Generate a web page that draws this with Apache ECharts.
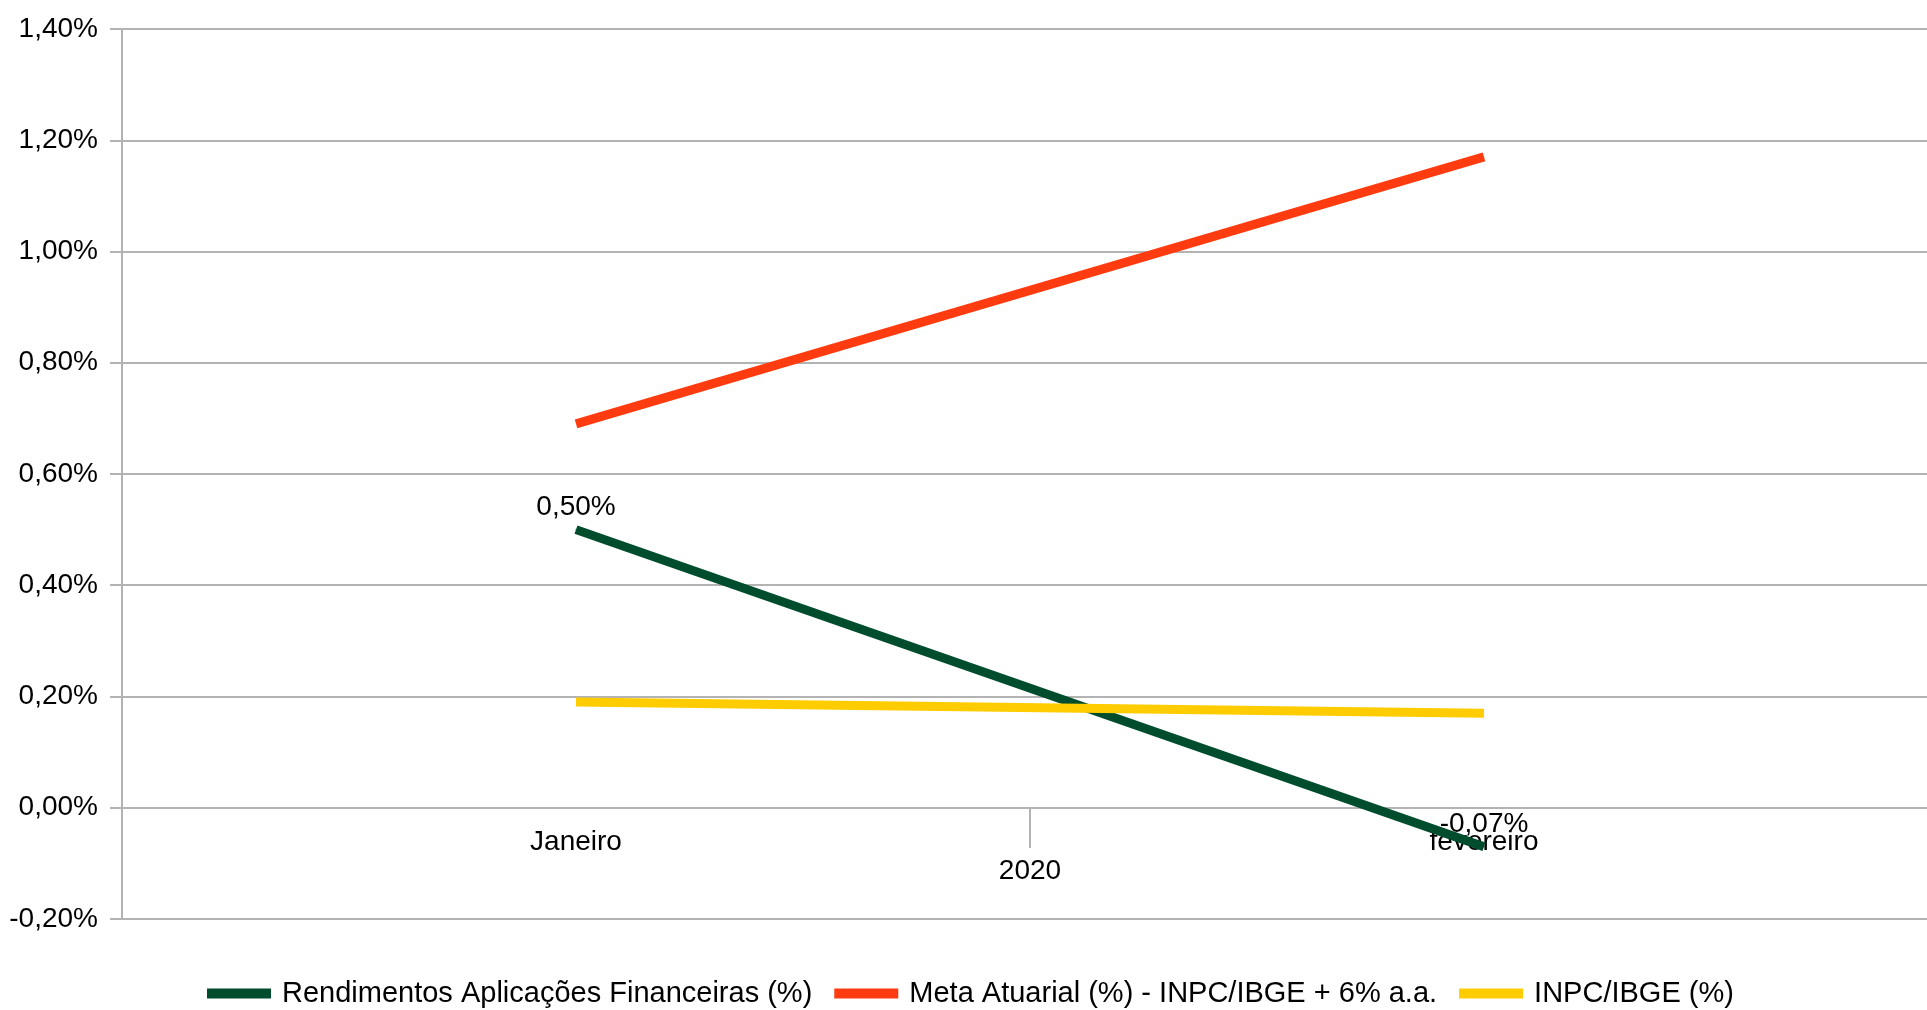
<!DOCTYPE html>
<html>
<head>
<meta charset="utf-8">
<script src="https://cdn.jsdelivr.net/npm/echarts@6/dist/echarts.min.js"></script>
<style>
html,body{margin:0;padding:0;background:#fff;}
#chart{width:1927px;height:1010px;}
</style>
</head>
<body>
<div id="chart"></div>
<script>
var categories = ['Janeiro', 'fevereiro'];
var groupLabels = ['2020'];
var rendimentos = [0.50, -0.07];
var metaAtuarial = [0.69, 1.17];
var inpc = [0.19, 0.17];
var seriesNames = ['Rendimentos Aplicações Financeiras (%)', 'Meta Atuarial (%) - INPC/IBGE + 6% a.a.', 'INPC/IBGE (%)'];
var colors = ['#004d2e', '#ff3b0f', '#ffcc00'];

function fmt(v) { return v.toFixed(2).replace('.', ',') + '%'; }

var FONT = 'Liberation Sans';
var chart = echarts.init(document.getElementById('chart'));
chart.setOption({
  animation: false,
  backgroundColor: '#ffffff',
  color: colors,
  textStyle: { fontFamily: FONT },
  grid: { left: 122, width: 1816, top: 29, bottom: 91, containLabel: false, outerBoundsMode: 'none' },
  legend: {
    bottom: -3, left: 202,
    icon: 'rect', itemWidth: 64, itemHeight: 10, itemGap: 22,
    textStyle: { fontFamily: FONT, fontSize: 29, color: '#000', padding: [0, 0, 0, 6] },
    data: seriesNames
  },
  xAxis: [{
    type: 'category',
    data: categories,
    boundaryGap: true,
    position: 'bottom',
    offset: -111,
    axisLine: { onZero: false, lineStyle: { color: '#b3b3b3', width: 2 } },
    axisTick: { show: true, length: 40, lineStyle: { color: '#b3b3b3', width: 2 } },
    axisLabel: { margin: 20, fontSize: 28, color: '#000', fontFamily: FONT }
  }, {
    type: 'category',
    data: groupLabels,
    position: 'bottom',
    offset: -111,
    boundaryGap: true,
    axisLine: { show: false, onZero: false },
    axisTick: { show: false },
    axisLabel: { margin: 49, fontSize: 28, color: '#000', fontFamily: FONT }
  }],
  yAxis: {
    type: 'value',
    min: -0.2, max: 1.4, interval: 0.2,
    axisLine: { show: true, lineStyle: { color: '#b3b3b3', width: 2 } },
    axisTick: { show: true, length: 12, lineStyle: { color: '#b3b3b3', width: 2 } },
    splitLine: { show: true, lineStyle: { color: '#b3b3b3', width: 2 } },
    axisLabel: { margin: 24, fontSize: 28, color: '#000', fontFamily: FONT, formatter: function (v) { return fmt(v); } }
  },
  series: [{
    name: seriesNames[0], type: 'line', data: rendimentos,
    symbol: 'circle', symbolSize: 1, showSymbol: true,
    itemStyle: { color: colors[0] },
    lineStyle: { width: 9, color: colors[0] },
    label: { show: true, position: 'top', distance: 8, fontSize: 28, color: '#000', fontFamily: FONT,
      formatter: function (p) { return fmt(p.value); } }
  }, {
    name: seriesNames[1], type: 'line', data: metaAtuarial,
    symbol: 'none', itemStyle: { color: colors[1] }, lineStyle: { width: 9, color: colors[1] }
  }, {
    name: seriesNames[2], type: 'line', data: inpc,
    symbol: 'none', itemStyle: { color: colors[2] }, lineStyle: { width: 9, color: colors[2] }
  }]
});
</script>
</body>
</html>
